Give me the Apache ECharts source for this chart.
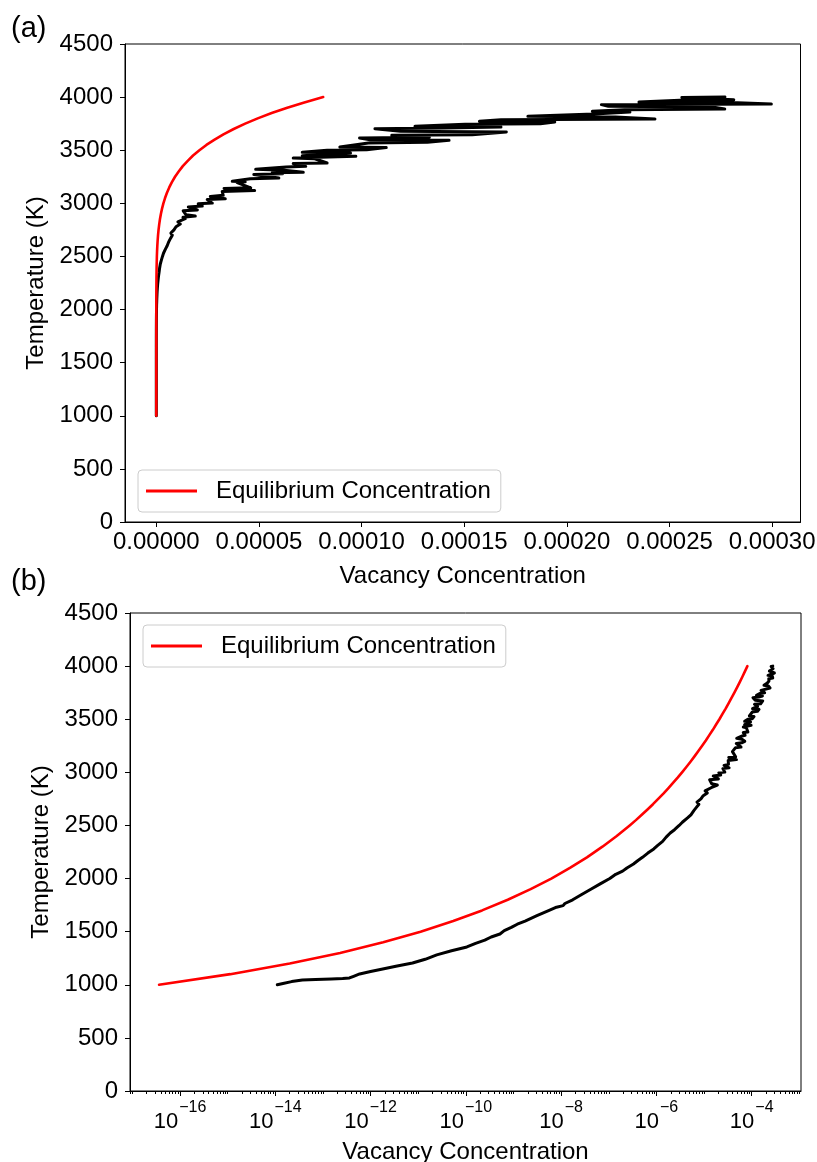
<!DOCTYPE html>
<html><head><meta charset="utf-8">
<script src="https://cdn.jsdelivr.net/npm/echarts@6/dist/echarts.min.js"></script>
<style>html,body{margin:0;padding:0;background:#fff}#c{width:817px;height:1162px}</style>
</head><body><div id="c"></div>
<script>
// ---------------- data ----------------
const tempTicks = [0, 500, 1000, 1500, 2000, 2500, 3000, 3500, 4000, 4500];
const linearConcTicks = [0, 0.00005, 0.0001, 0.00015, 0.0002, 0.00025, 0.0003];
const logConcTickExponents = [-16, -14, -12, -10, -8, -6, -4];
const legendLabel = 'Equilibrium Concentration';

// equilibrium (red) curve
const eqTemperature = [1000,1100,1200,1300,1400,1500,1600,1700,1800,1900,2000,2100,2200,2300,2400,2500,2550,2600,2650,2700,2750,2800,2850,2900,2950,3000,3050,3100,3150,3200,3250,3300,3350,3400,3450,3500,3550,3600,3650,3700,3750,3800,3850,3900,3950,4000];
const eqConcentration = [3.63e-17,1.14e-15,2.01e-14,2.29e-13,1.84e-12,1.12e-11,5.43e-11,2.19e-10,7.57e-10,2.29e-9,6.21e-9,1.53e-8,3.48e-8,7.36e-8,1.47e-7,2.75e-7,3.71e-7,4.93e-7,6.50e-7,8.47e-7,1.09e-6,1.40e-6,1.77e-6,2.23e-6,2.79e-6,3.45e-6,4.25e-6,5.19e-6,6.30e-6,7.60e-6,9.12e-6,1.09e-5,1.29e-5,1.53e-5,1.79e-5,2.10e-5,2.44e-5,2.84e-5,3.27e-5,3.77e-5,4.33e-5,4.94e-5,5.62e-5,6.38e-5,7.21e-5,8.13e-5];

// simulated (black) vacancy concentration
const simTemperature = [1000,1012,1030,1045,1050,1054,1058,1064,1080,1102,1125,1149,1175,1205,1240,1281,1320,1356,1390,1420,1450,1478,1510,1540,1570,1600,1650,1700,1730,1745,1765,1800,1850,1900,1950,2000,2040,2070,2100,2137,2170,2200,2240,2279,2310,2350,2390,2429,2460,2500,2530,2571,2600,2615,2640,2670,2700,2720,2750,2780,2806,
2825,2855,2868,2880,2892,2930,2938,2965,2975,2995,3002,3035,3043,3065,3075,3112,3120,3140,3146,3195,3202,3208,3232,3238,3272,3278,3288,3292,3312,3320,3342,3348,3374,3380,3420,3426,3443,3449,3474,3480,3499,3505,3525,3531,3568,3574,3593,3599,3615,3621,3640,3646,3672,3678,3703,3709,3719,3725,3744,3750,3766,3772,3788,3794,3813,3819,3835,3841,3860,3866,3882,3888,3907,3913,3929,3935,3948,3954,3970,3976,3993,3997,4000];
const simConcentration = [1.10e-14,1.45e-14,2.2e-14,3.7e-14,7.0e-14,1.5e-13,2.6e-13,3.6e-13,4.4e-13,5.9e-13,1.0e-12,1.8e-12,3.4e-12,7.6e-12,1.4e-11,2.45e-11,5.0e-11,1.05e-10,1.6e-10,2.5e-10,3.4e-10,5.2e-10,6.4e-10,9.0e-10,1.2e-9,1.75e-9,3.1e-9,5.6e-9,8.0e-9,1.1e-8,1.2e-8,1.75e-8,2.7e-8,4.2e-8,6.6e-8,1.05e-7,1.4e-7,1.95e-7,2.4e-7,3.3e-7,4.1e-7,5.1e-7,6.6e-7,8.8e-7,1.05e-6,1.35e-6,1.6e-6,1.95e-6,2.4e-6,3.0e-6,3.5e-6,4.5e-6,5.3e-6,4.9e-6,6.1e-6,6.9e-6,7.8e-6,7.1e-6,8.6e-6,9.6e-6,1.17e-5,
1.05e-5,1.41e-5,1.30e-5,1.90e-5,1.45e-5,1.31e-5,2.00e-5,1.56e-5,2.24e-5,2.04e-5,2.73e-5,2.48e-5,3.36e-5,2.63e-5,3.26e-5,3.21e-5,4.79e-5,3.30e-5,4.60e-5,3.94e-5,4.33e-5,3.70e-5,4.58e-5,5.97e-5,4.75e-5,6.15e-5,5.65e-5,7.16e-5,6.23e-5,4.84e-5,6.32e-5,7.28e-5,6.67e-5,8.32e-5,7.72e-5,6.67e-5,9.72e-5,7.11e-5,9.46e-5,7.11e-5,8.32e-5,1.025e-4,1.12e-4,8.94e-5,1.033e-4,1.321e-4,1.426e-4,1.042e-4,9.9e-5,1.33e-4,1.147e-4,1.539e-4,1.705e-4,1.19e-4,1.065e-4,1.40e-4,1.679e-4,1.26e-4,1.504e-4,1.871e-4,1.941e-4,1.574e-4,1.679e-4,2.429e-4,2.237e-4,1.81e-4,1.81e-4,2.132e-4,2.307e-4,2.124e-4,2.28e-4,2.769e-4,2.709e-4,2.202e-4,2.168e-4,2.996e-4,2.831e-4,2.351e-4,2.55e-4,2.813e-4,2.804e-4,2.56e-4,2.77e-4];

// ---------------- build ----------------
const FONT = 'Liberation Sans';
const FS = 24;
const zipLin = (xs, ys) => xs.map((x, i) => [x, ys[i]]);
const zipLog = (xs, ys) => xs.map((x, i) => [Math.log10(x), ys[i]]);

const LIN_MIN = -1.525e-5, LIN_MAX = 3.138e-4;
const LOG_MIN = -17.05, LOG_MAX = -2.965;
const minorLog = [];
for (let n = -18; n <= -2; n++) {
  if (n % 2 !== 0) minorLog.push(n);
  for (let k = 2; k <= 9; k++) minorLog.push(n + Math.log10(k));
}

const txt = {color: '#000', fontFamily: FONT, fontSize: FS};
const yAxisBase = (grid, gap) => ({
  type: 'value', gridIndex: grid, min: 0, max: 4500, interval: 500,
  name: 'Temperature (K)', nameLocation: 'middle', nameGap: gap, nameRotate: 90,
  nameTextStyle: txt,
  axisLine: {show: true, onZero: false, lineStyle: {color: '#000', width: 1}},
  axisTick: {show: true, length: 5, lineStyle: {color: '#000', width: 1}},
  axisLabel: Object.assign({margin: 12, customValues: tempTicks, formatter: v => String(Math.round(v))}, txt),
  splitLine: {show: false}
});

const lineSeries = (name, data, color, xi, yi, z, w) => ({
  type: 'line', name, data, xAxisIndex: xi, yAxisIndex: yi,
  showSymbol: false, symbol: 'none', z, clip: true,
  lineStyle: {color, width: w, cap: 'round', join: 'round'},
  itemStyle: {color}, emphasis: {disabled: true}
});

const legendBase = (left, top) => ({
  data: [{name: legendLabel, icon: 'rect'}], left, top, orient: 'horizontal',
  itemWidth: 51, itemHeight: 3, padding: [9, 10, 9, 8],
  borderColor: '#cccccc', borderWidth: 1, borderRadius: 4, backgroundColor: '#fff',
  textStyle: Object.assign({padding: [0, 0, 0, 14]}, txt), selectedMode: false
});

const option = {
  animation: false,
  backgroundColor: '#fff',
  grid: [
    {left: 125, top: 44, width: 675.5, height: 478, show: true, borderColor: '#000', borderWidth: 1, containLabel: false, outerBoundsMode: 'none'},
    {left: 130, top: 613, width: 671, height: 478, show: true, borderColor: '#000', borderWidth: 1, containLabel: false, outerBoundsMode: 'none'}
  ],
  xAxis: [
    {type: 'value', gridIndex: 0, min: LIN_MIN, max: LIN_MAX, position: 'bottom',
     name: 'Vacancy Concentration', nameLocation: 'middle', nameGap: 42, nameTextStyle: txt,
     axisLine: {show: true, onZero: false, lineStyle: {color: '#000', width: 1}},
     axisTick: {show: true, length: 5, customValues: linearConcTicks, lineStyle: {color: '#000'}},
     axisLabel: Object.assign({margin: 8, customValues: linearConcTicks, formatter: v => v.toFixed(5)}, txt),
     splitLine: {show: false}},
    {type: 'value', gridIndex: 1, min: LOG_MIN, max: LOG_MAX, position: 'bottom',
     name: 'Vacancy Concentration', nameLocation: 'middle', nameGap: 49, nameTextStyle: txt,
     axisLine: {show: true, onZero: false, lineStyle: {color: '#000', width: 1}},
     axisTick: {show: true, length: 5, customValues: logConcTickExponents, lineStyle: {color: '#000'}},
     axisLabel: {margin: 9, customValues: logConcTickExponents,
       formatter: v => '{b|10}{s|\u2212' + Math.abs(Math.round(v)) + '}',
       rich: {
         b: {fontFamily: FONT, fontSize: 22, color: '#000', verticalAlign: 'bottom'},
         s: {fontFamily: FONT, fontSize: 16, color: '#000', verticalAlign: 'top', padding: [0, 0, 17, 1]}
       }},
     splitLine: {show: false}},
    {type: 'value', gridIndex: 1, min: LOG_MIN, max: LOG_MAX, position: 'bottom',
     axisLine: {show: false, onZero: false},
     axisTick: {show: true, length: 3, customValues: minorLog, lineStyle: {color: '#000'}},
     axisLabel: {show: false}, splitLine: {show: false}}
  ],
  yAxis: [yAxisBase(0, 59), yAxisBase(1, 61)],
  legend: [legendBase(138, 470), legendBase(143, 625)],
  graphic: [
    {type: 'text', left: 11, top: 14, style: {text: '(a)', fontFamily: FONT, fontSize: 29, fill: '#000'}},
    {type: 'text', left: 11, top: 567, style: {text: '(b)', fontFamily: FONT, fontSize: 29, fill: '#000'}}
  ],
  series: [
    lineSeries('Simulation', zipLin(simConcentration, simTemperature), '#000000', 0, 0, 2, 3),
    lineSeries(legendLabel, zipLin(eqConcentration, eqTemperature), '#ff0000', 0, 0, 3, 2.6),
    lineSeries('Simulation', zipLog(simConcentration, simTemperature), '#000000', 1, 1, 2, 3),
    lineSeries(legendLabel, zipLog(eqConcentration, eqTemperature), '#ff0000', 1, 1, 3, 2.6)
  ]
};

const chart = echarts.init(document.getElementById('c'), null, {renderer: 'canvas'});
chart.setOption(option);
</script>
</body></html>
